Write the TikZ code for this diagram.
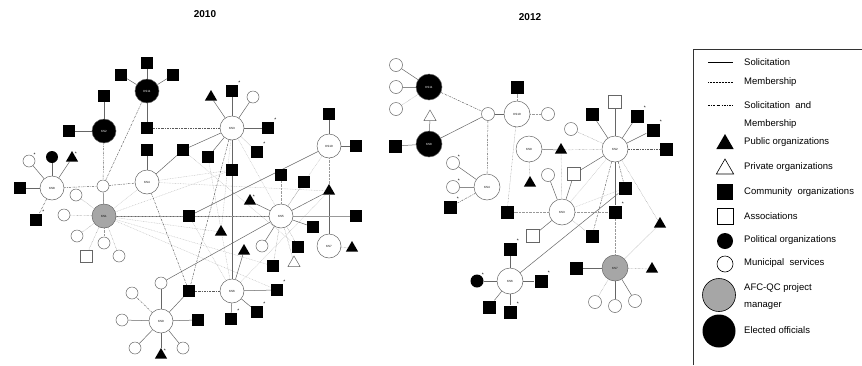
\documentclass[tikz,border=0pt]{standalone}
\usepackage{fontspec}
\setmainfont{Liberation Sans}
\usetikzlibrary{shapes.geometric,backgrounds}
\tikzset{
 bigc/.style={circle, draw=black!60, line width=0.5pt, fill=white, minimum size=24pt, inner sep=0pt, font=\fontsize{3}{3}\selectfont},
 bigr/.style={bigc, minimum size=26pt},
 blk/.style={fill=black, text=white},
 gry/.style={fill=black!35},
 smc/.style={circle, draw=black!60, line width=0.5pt, fill=white, minimum size=12pt, inner sep=0pt},
 pol/.style={circle, fill=black, minimum size=12pt, inner sep=0pt},
 sqb/.style={rectangle, fill=black, minimum size=12pt, inner sep=0pt},
 sqw/.style={rectangle, draw=black!60, line width=0.5pt, fill=white, minimum size=12pt, inner sep=0pt},
 trb/.style={regular polygon, regular polygon sides=3, fill=black, minimum size=14pt, inner sep=0pt},
 trw/.style={trb, fill=white, draw=black!60, line width=0.5pt},
 ast/.style={label={[font=\fontsize{5}{5}\selectfont, inner sep=0pt, text=black]45:*}},
 sol/.style={draw=black!60, line width=0.5pt},
 mem/.style={draw=black!40, line width=0.4pt, dash pattern=on 0.6pt off 0.8pt},
 smb/.style={draw=black!65, line width=0.45pt, dash pattern=on 2pt off 1pt on 0.6pt off 1pt},
 web/.style={draw=black!25, line width=0.4pt, dash pattern=on 0.8pt off 0.8pt},
 lgt/.style={anchor=west, font=\fontsize{9.5}{11}\selectfont, inner sep=0pt},
 ttl/.style={font=\bfseries\fontsize{10}{11}\selectfont},
}
\begin{document}
\begin{tikzpicture}[x=1pt,y=-1pt]
\useasboundingbox (0,0) rectangle (862,365);
% titles
\node[ttl] (T1) at (205,14) {2010};
\node[ttl] (T2) at (530,17) {2012};
% ===================== 2010 =====================
\node[bigc,blk] (L11) at (147,91) {KS11};
\node[sqb] (L11a) at (147,63) {};
\node[sqb] (L11b) at (121,75) {};
\node[sqb] (L11c) at (173,75) {};
\node[sqb] (L11d) at (147,128) {};
\node[bigc,blk] (L2) at (104,131) {KS2};
\node[sqb] (L2a) at (104,96) {};
\node[sqb] (L2b) at (69,131) {};
\node[bigc] (L8) at (52,188) {KS8};
\node[sqb] (L8a) at (20,188) {};
\node[smc,ast] (L8b) at (29,161) {};
\node[pol] (L8c) at (52,157) {};
\node[trb,ast] (L8d) at (72,158) {};
\node[sqb,ast] (L8e) at (36,220) {};
\node[smc] (Lc) at (103,186) {};
\node[bigc] (L4) at (147,182) {KS4};
\node[sqb] (L4a) at (147,150) {};
\node[sqb] (L4b) at (183,150) {};
\node[bigc] (L3) at (232,128) {KS3};
\node[trb] (L3a) at (211,97) {};
\node[sqb,ast] (L3b) at (232,91) {};
\node[smc] (L3c) at (253,97) {};
\node[sqb,ast] (L3d) at (268,128) {};
\node[sqb,ast] (L3e) at (257,152) {};
\node[sqb] (L3f) at (208,157) {};
\node[sqb] (L3g) at (232,170) {};
\node[bigc] (L10) at (329,146) {KS10};
\node[sqb] (L10a) at (329,114) {};
\node[sqb] (L10b) at (356,146) {};
\node[bigc,gry] (L1) at (104,216) {KS1};
\node[smc] (L1a) at (76,195) {};
\node[smc] (L1b) at (64,215) {};
\node[smc] (L1c) at (77,236) {};
\node[smc] (L1d) at (104,243) {};
\node[sqw] (L1e) at (86,256) {};
\node[smc] (L1f) at (119,256) {};
\node[sqb] (Lm) at (189,216) {};
\node[trb] (Lt1) at (221,232) {};
\node[bigc] (L5) at (281,216) {KS5};
\node[trb,ast] (L5a) at (250,201) {};
\node[trb] (L5b) at (329,191) {};
\node[sqb] (L5c) at (356,216) {};
\node[sqb] (L5d) at (313,227) {};
\node[smc] (L5e) at (262,246) {};
\node[sqb] (L5f) at (298,247) {};
\node[sqb] (L5g) at (273,266) {};
\node[trw] (L5h) at (294,263) {};
\node[sqb] (L5i) at (281,175) {};
\node[sqb] (L5j) at (304,182) {};
\node[trb] (Lt2) at (244,251) {};
\node[bigc] (L7) at (329,246) {KS7};
\node[trb] (L7a) at (352,248) {};
\node[bigc] (L6) at (232,291) {KS6};
\node[sqb] (L6a) at (189,291) {};
\node[sqb,ast] (L6b) at (277,290) {};
\node[sqb,ast] (L6c) at (257,312) {};
\node[sqb,ast] (L6d) at (231,319) {};
\node[bigc] (L9) at (161,321) {KS9};
\node[smc] (L9a) at (161,283) {};
\node[smc] (L9b) at (132,293) {};
\node[smc] (L9c) at (122,320) {};
\node[sqb] (L9d) at (198,320) {};
\node[smc] (L9e) at (135,348) {};
\node[trb,ast] (L9f) at (161,355) {};
\node[smc] (L9g) at (183,348) {};
% ===================== 2012 =====================
\node[bigr,blk] (R11) at (429,87) {KS11};
\node[smc,minimum size=13pt] (R11a) at (396,65) {};
\node[smc,minimum size=13pt] (R11b) at (396,87) {};
\node[smc,minimum size=13pt] (R11c) at (396,109) {};
\node[trw] (Rw) at (430,117) {};
\node[bigr,blk] (R8) at (429,144) {KS8};
\node[sqb,minimum size=13pt] (R8a) at (395,146) {};
\node[smc,minimum size=13pt] (Rc) at (488,114) {};
\node[bigr] (R10) at (517,114) {KS10};
\node[sqb,minimum size=13pt] (R10a) at (517,87) {};
\node[smc,minimum size=13pt] (R10b) at (548,114) {};
\node[bigr] (R4) at (487,187) {KS4};
\node[smc,minimum size=13pt,ast] (R4a) at (453,163) {};
\node[smc,minimum size=13pt,ast] (R4b) at (453,187) {};
\node[sqb,minimum size=13pt,ast] (R4c) at (450,207) {};
\node[bigr] (R9) at (529,149) {KS9};
\node[trb] (R9a) at (530,183) {};
\node[trb] (Rt) at (561,150) {};
\node[bigr] (R2) at (615,149) {KS2};
\node[sqw,minimum size=13pt] (R2a) at (615,102) {};
\node[sqb,minimum size=13pt] (R2b) at (592,114) {};
\node[sqb,minimum size=13pt,ast] (R2c) at (637,116) {};
\node[sqb,minimum size=13pt,ast] (R2d) at (653,130) {};
\node[sqb,minimum size=13pt] (R2e) at (666,149) {};
\node[smc,minimum size=13pt] (R2f) at (571,129) {};
\node[bigr] (R3) at (562,212) {KS3};
\node[smc,minimum size=13pt] (R3a) at (548,175) {};
\node[sqw,minimum size=13pt] (R3b) at (574,174) {};
\node[sqb,minimum size=13pt] (R3c) at (507,212) {};
\node[sqw,minimum size=13pt] (R3d) at (533,236) {};
\node[sqb,minimum size=13pt] (R3e) at (592,236) {};
\node[sqb,minimum size=13pt] (Rs1) at (625,188) {};
\node[sqb,minimum size=13pt,ast] (Rs2) at (615,212) {};
\node[trb] (Rtr) at (660,224) {};
\node[bigr] (R6) at (510,281) {KS6};
\node[sqb,minimum size=13pt,ast] (R6a) at (510,249) {};
\node[pol,minimum size=13pt,ast] (R6b) at (477,281) {};
\node[sqb,minimum size=13pt,ast] (R6c) at (541,281) {};
\node[sqb,minimum size=13pt] (R6d) at (489,307) {};
\node[sqb,minimum size=13pt,ast] (R6e) at (510,312) {};
\node[bigr,gry] (R7) at (615,268) {KS7};
\node[sqb,minimum size=13pt] (R7a) at (576,268) {};
\node[trb] (R7b) at (652,269) {};
\node[smc,minimum size=13pt] (R7c) at (595,302) {};
\node[smc,minimum size=13pt] (R7d) at (615,306) {};
\node[smc,minimum size=13pt] (R7e) at (635,301) {};
% ===================== edges =====================
\begin{scope}[on background layer]
% 2010 web
\foreach \a/\b in {L1/L4, L1/L3g, L1/Lt1, L1/L5g, L1/L6b, L4/L3g, L4/L5b, L3/Lt1, L3/L5, L5b/L6, L10/L5, Lm/L6, L4b/L5f, L3f/L6}
  \draw[web] (\a) -- (\b);
\foreach \a/\b in {L11/L11a, L11/L11b, L11/L11c, L11/L11d, L2/L2a, L2/L2b, L8/L8a, L8/L8b, L8/L8c, L8/L8d, L4/L4a, L4/L4b, Lc/L1, L1/Lm, Lm/L5, L3/L3a, L3/L3b, L3/L3c, L3/L3d, L3/L4b, L3/L3f, L3/L3g, L3g/L6, L10/L10a, L10/L10b, L10/Lm, L5b/L7, L5b/L5, L5/L5a, L5/L5d, L5/L5e, L5/L9a, L6/Lt2, L6/L6b, L6/L6c, L6/L6d, L9/L9a, L9/L9c, L9/L9d, L9/L9e, L9/L9f, L9/L9g, L9/L6a}
  \draw[sol] (\a) -- (\b);
\foreach \a/\b in {L8/Lc, Lc/L4, Lc/L11, L2/Lc, L11d/L3, L8/L8e, L9/L9b, L6/L6a, L4/L6a, L3/L6a}
  \draw[smb] (\a) -- (\b);
\foreach \a/\b in {L1/L1a, L1/L1b, L1/L1c, L1/L1d, L1/L1e, L1/L1f, L3/L3e, L10/L5b, L5/L5c, L5/L5f, L5/L5g, L5/L5h, L5/L5i, L5/L5j, L7/L7a, L1/L5c}
  \draw[mem] (\a) -- (\b);
% 2012
\foreach \a/\b in {R3/R2, R3/Rs1}
  \draw[web] (\a) -- (\b);
\foreach \a/\b in {R11/R11a, R8/Rw, R8/R8a, R8/Rc, Rc/R10, R4/R4a, R9/Rt, R2/R2a, R2/R2b, R2/R2c, R2/R2d, R2/R3b, R2/Rs2, R3/R3a, R3/R3b, R3/R3d, Rs1/R6, R6/R6a, R6/R6b, R6/R6c, R6/R6d, R6/R6e, R7/R7a, R7/R7d, R7/R7e}
  \draw[sol] (\a) -- (\b);
\draw[sol, line width=1pt, draw=black!45] (R11) -- (R11b);
\draw[sol, line width=1pt, draw=black!45] (R4) -- (R4b);
\foreach \a/\b in {R11/Rc, Rc/R4, R2/R2e, R2/Rs1, R2/R3e, R4/R4c}
  \draw[smb] (\a) -- (\b);
\foreach \a/\b in {R11/R11c, R10/R10a, R10/R10b, R10/R3c, R9/R9a, Rt/R2, Rt/R3, R2/R2f, R3/R3c, R3/Rs2, Rs2/R7, R2/Rtr, Rtr/R7, R7/R7b, R7/R7c, R3/R3e}
  \draw[mem] (\a) -- (\b);
\end{scope}
% ===================== legend =====================
\coordinate (B0) at (693,365);
\coordinate (B1) at (693,49);
\coordinate (B2) at (862,49);
\draw[black!80, line width=0.6pt] (B0) -- (B1) -- (B2);
\coordinate (S1a) at (708,62); \coordinate (S1b) at (733,62);
\coordinate (S2a) at (708,82); \coordinate (S2b) at (733,82);
\coordinate (S3a) at (708,105); \coordinate (S3b) at (733,105);
\draw[black, line width=0.6pt] (S1a) -- (S1b);
\draw[black, line width=0.4pt, dash pattern=on 0.5pt off 1pt] (S2a) -- (S2b);
\draw[black, line width=0.5pt, dash pattern=on 2pt off 1.3pt on 0.6pt off 1.3pt] (S3a) -- (S3b);
\node[lgt] (t1) at (744,62) {Solicitation};
\node[lgt] (t2) at (744,82) {Membership};
\node[lgt] (t3) at (744,105) {Solicitation\ \ and};
\node[lgt] (t3b) at (744,124) {Membership};
\node[trb, minimum size=20pt] (k1) at (725,144) {};
\node[trw, minimum size=20pt, draw=black, line width=0.6pt] (k2) at (725,169) {};
\node[sqb, minimum size=16pt] (k3) at (725,192) {};
\node[sqw, minimum size=16pt, draw=black, line width=0.6pt] (k4) at (725,216) {};
\node[pol, minimum size=16pt] (k5) at (725,241) {};
\node[smc, minimum size=16pt, draw=black, line width=0.6pt] (k6) at (725,264) {};
\node[circle, fill=black!35, draw=black, line width=0.6pt, minimum size=33pt, inner sep=0pt] (k7) at (719,295) {};
\node[circle, fill=black, minimum size=33pt, inner sep=0pt] (k8) at (719,331) {};
\node[lgt] (t4) at (744,142) {Public organizations};
\node[lgt] (t5) at (744,167) {Private organizations};
\node[lgt] (t6) at (744,192) {Community\ \ organizations};
\node[lgt] (t7) at (744,216) {Associations};
\node[lgt] (t8) at (744,240) {Political organizations};
\node[lgt] (t9) at (744,263) {Municipal\ \ services};
\node[lgt] (t10) at (744,288) {AFC-QC project};
\node[lgt] (t11) at (744,306) {manager};
\node[lgt] (t12) at (744,330) {Elected officials};
\end{tikzpicture}
\end{document}
